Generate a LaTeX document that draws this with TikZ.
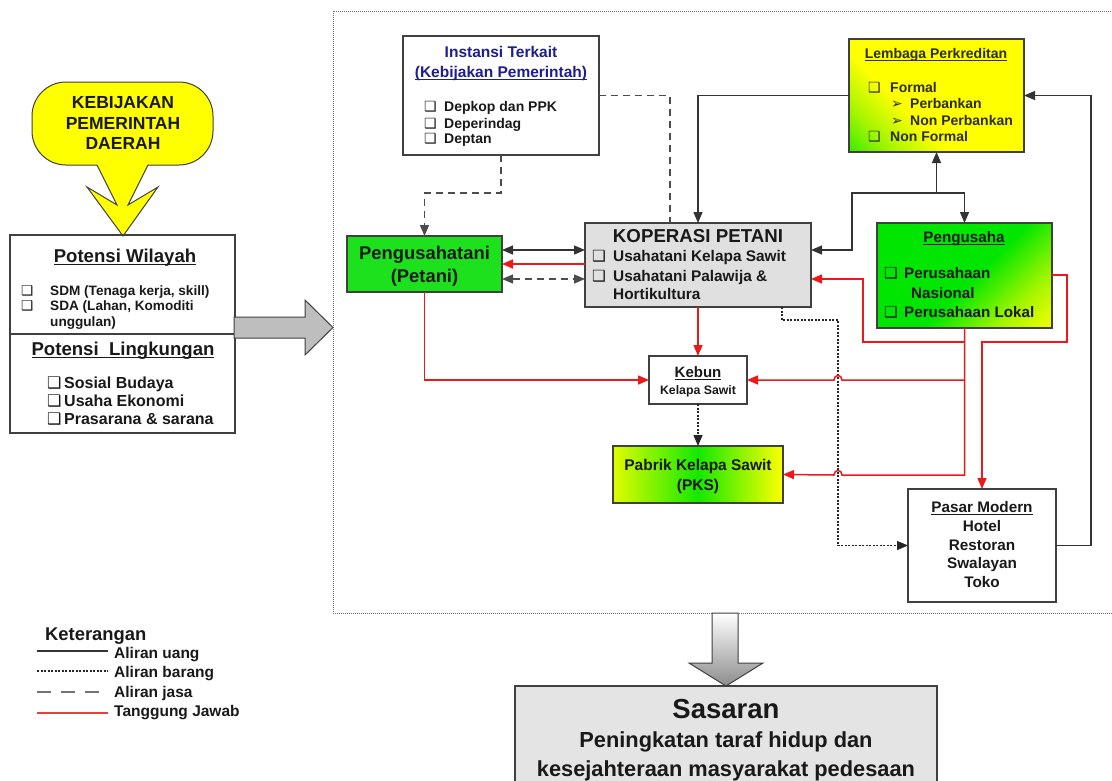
\documentclass[tikz,border=0pt]{standalone}
\usepackage{fontspec}
\setmainfont{Liberation Sans}
\newfontfamily\dvs{DejaVu Sans}
\usetikzlibrary{arrows.meta}
\newcommand\myfs[1]{\fontsize{#1}{#1}\selectfont}
\newcommand\bx[1]{\makebox[#1][l]{\dvs ❑}}
\newcommand\ar[1]{\makebox[#1][l]{\dvs ➢}}
\newcommand\myul[1]{\setbox0\hbox{#1}\rlap{\vrule width\wd0 height -1.6pt depth 2.7pt}\box0}
\definecolor{bord}{RGB}{64,64,64}
\definecolor{myred}{RGB}{235,25,25}
\definecolor{navy}{RGB}{30,30,140}
\definecolor{brgreen}{RGB}{30,225,30}
\definecolor{gr}{RGB}{0,230,0}
\definecolor{yel}{RGB}{255,255,0}
\definecolor{ygr}{RGB}{160,245,0}
\definecolor{kopgray}{RGB}{224,224,224}
\definecolor{sasgray}{RGB}{228,228,228}
\definecolor{arrgray}{RGB}{190,190,190}
\definecolor{txt}{RGB}{25,25,25}
\definecolor{olive2}{RGB}{45,45,20}
\pgfdeclarehorizontalshading{lemsh}{100bp}{color(0bp)=(gr); color(9bp)=(gr); color(25bp)=(ygr); color(39bp)=(yel); color(100bp)=(yel)}
\pgfdeclarehorizontalshading{pgssh}{100bp}{color(0bp)=(gr); color(53bp)=(gr); color(71bp)=(ygr); color(87bp)=(yel); color(100bp)=(yel)}
\begin{document}
\begin{tikzpicture}[x=1pt,y=-1pt,
  box/.style={draw=bord,line width=1.3pt,inner sep=0pt,outer sep=0pt},
  tc/.style={anchor=base,inner sep=0pt,text=txt},
  tw/.style={anchor=base west,inner sep=0pt,text=txt},
  uang/.style={draw=black!80,line width=1.3pt},
  barang/.style={draw=black!85,line width=1.3pt,dash pattern=on 2pt off 1.5pt},
  jasa/.style={draw=black!70,line width=1.3pt,dash pattern=on 7pt off 5pt},
  tj/.style={draw=myred,line width=1.5pt},
  tip/.style={-{Triangle[length=11pt,width=9pt]}},
  tips/.style={{Triangle[length=11pt,width=9pt]}-{Triangle[length=11pt,width=9pt]}},
]
\useasboundingbox (0,0) rectangle (1112,780);
\fill[white] (0,0) rectangle (1112,780);

% frame
\draw[draw=black!55,line width=1pt,dash pattern=on 1pt off 1pt] (333,11) rectangle (1125,613);

% callout
\draw[draw=bord,line width=1pt,fill=yel] (97,165) [rounded corners=34] -- (32,165) -- (32,82) -- (213,82) -- (213,165) [sharp corners] -- (148,165) -- (128,205) -- (158,187) -- (123,236) -- (87,187) -- (117,205) -- cycle;
\node[tc,font=\myfs{17.5}\bfseries] (k1) at (123,108.5) {KEBIJAKAN};
\node[tc,font=\myfs{17.5}\bfseries] (k2) at (123,129) {PEMERINTAH};
\node[tc,font=\myfs{17.5}\bfseries] (k3) at (123,149.5) {DAERAH};

% left boxes
\node[box,minimum width=225,minimum height=99] (pw) at (122.5,284.5) {};
\node[box,minimum width=225,minimum height=99] (pl) at (122.5,383.5) {};
\node[tc,font=\myfs{18.6}\bfseries] (pw1) at (125,262) {\myul{Potensi Wilayah}};
\node[tw,font=\myfs{13.6}\bfseries] (pw2) at (21,295) {\bx{29pt}SDM (Tenaga kerja, skill)};
\node[tw,font=\myfs{13.6}\bfseries] (pw3) at (21,310.5) {\bx{29pt}SDA (Lahan, Komoditi};
\node[tw,font=\myfs{13.6}\bfseries] (pw4) at (50,326) {unggulan)};
\node[tc,font=\myfs{18.6}\bfseries] (pl1) at (123,355) {\myul{Potensi\ \ Lingkungan}};
\node[tw,font=\myfs{16}\bfseries] (pl2) at (47,388) {\bx{17pt}Sosial Budaya};
\node[tw,font=\myfs{16}\bfseries] (pl3) at (47,406) {\bx{17pt}Usaha Ekonomi};
\node[tw,font=\myfs{16}\bfseries] (pl4) at (47,424) {\bx{17pt}Prasarana \& sarana};

% big right arrow
\draw[draw=bord,line width=1pt,fill=arrgray] (234,317) -- (305,317) -- (305,300) -- (333,327.5) -- (305,355) -- (305,338) -- (234,338) -- cycle;

% boxes
\node[box,fill=white,minimum width=196,minimum height=119] (ins) at (501,95.5) {};
\node[box,shade,shading=lemsh,shading angle=45,minimum width=175,minimum height=113] (lem) at (936.5,95.5) {};
\node[box,fill=brgreen,minimum width=155,minimum height=56] (pt) at (424.5,264) {};
\node[box,fill=kopgray,minimum width=226,minimum height=84] (kop) at (698,265) {};
\node[box,shade,shading=pgssh,shading angle=-45,minimum width=175,minimum height=105] (pgs) at (964.5,275.5) {};
\node[box,fill=white,minimum width=98,minimum height=48] (keb) at (698,380) {};
\node[box,left color=yel!88!gr,right color=yel,middle color=gr!92!yel,minimum width=170,minimum height=57] (pks) at (698,474.5) {};
\node[box,fill=white,minimum width=148,minimum height=113] (pas) at (982,545.5) {};

% connectors: jasa
\draw[jasa,tip] (ins.south) -- ++(0,38) -| (pt.north);
\draw[jasa] (ins.east) -| (kop.north -| 670,0);
\draw[jasa,tips] (pt.east |- 0,279) -- (kop.west |- 0,279);

% connectors: uang
\coordinate (J) at (936.5,193);
\draw[uang,tip] (lem.west) -| (kop.north);
\draw[uang,tip] (J) -- (lem.south);
\draw[uang,tip] (J) -| (pgs.north);
\draw[uang,tip] (J) -| (852,250) -- (kop.east |- 0,250);
\draw[uang,tip] (pas.east) -- ++(35,0) |- (lem.east);
\draw[uang,tips] (pt.east |- 0,250) -- (kop.west |- 0,250);

% connectors: barang
\draw[barang,tip] (kop.south -| 782,0) |- (838,320) |- (pas.west);
\draw[barang,tip] (keb.south) -- (pks.north);

% connectors: tanggung jawab
\draw[tj,tip] (kop.west |- 0,264) -- (pt.east |- 0,264);
\draw[tj,tip] (kop.south) -- (keb.north);
\draw[tj,tip] (pt.south) |- (keb.west);
\draw[tj,tip] (pgs.south) -- (pgs.south |- 0,475) -- (842,475) .. controls (842,469) and (834,469) .. (834,475) -- (pks.east);
\draw[tj,tip] (pgs.south |- 0,380) -- (842,380) .. controls (842,374) and (834,374) .. (834,380) -- (keb.east);
\draw[tj,tip] (pgs.south |- 0,342) -- (863,342) -- (863,279) -- (kop.east |- 0,279);
\draw[tj,tip] (pgs.east |- 0,275) -- (1067,275) -- (1067,342) -| (pas.north);

% texts
\node[tc,font=\myfs{15.5}\bfseries,text=navy] (ins1) at (501,57.6) {Instansi Terkait};
\node[tc,font=\myfs{15.5}\bfseries,text=navy] (ins2) at (501,77.6) {\myul{(Kebijakan Pemerintah)}};
\node[tw,font=\myfs{14}\bfseries] (ins3) at (424,111) {\bx{20pt}Depkop dan PPK};
\node[tw,font=\myfs{14}\bfseries] (ins4) at (424,128) {\bx{20pt}Deperindag};
\node[tw,font=\myfs{14}\bfseries] (ins5) at (424,143) {\bx{20pt}Deptan};

\node[tc,font=\myfs{14}\bfseries,text=olive2] (lem1) at (936,58) {\myul{Lembaga Perkreditan}};
\node[tw,font=\myfs{14}\bfseries,text=olive2] (lem2) at (868,92) {\bx{22pt}Formal};
\node[tw,font=\myfs{14}\bfseries,text=olive2] (lem3) at (891,108.5) {\ar{19pt}Perbankan};
\node[tw,font=\myfs{14}\bfseries,text=olive2] (lem4) at (891,125) {\ar{19pt}Non Perbankan};
\node[tw,font=\myfs{14}\bfseries,text=olive2] (lem5) at (868,141.5) {\bx{22pt}Non Formal};

\node[tc,font=\myfs{18.4}\bfseries] (pt1) at (424.5,259.5) {Pengusahatani};
\node[tc,font=\myfs{18.4}\bfseries] (pt2) at (424.5,282.5) {(Petani)};

\node[tc,font=\myfs{18.7}\bfseries] (kop1) at (698,242) {KOPERASI PETANI};
\node[tw,font=\myfs{15.4}\bfseries] (kop2) at (592,261.5) {\bx{21pt}Usahatani Kelapa Sawit};
\node[tw,font=\myfs{15.4}\bfseries] (kop3) at (592,281.5) {\bx{21pt}Usahatani Palawija \&};
\node[tw,font=\myfs{15.4}\bfseries] (kop4) at (613,299.5) {Hortikultura};

\node[tc,font=\myfs{15.2}\bfseries] (pgs1) at (964,242.5) {\myul{Pengusaha}};
\node[tw,font=\myfs{15.2}\bfseries] (pgs2) at (884,278.5) {\bx{20pt}Perusahaan};
\node[tw,font=\myfs{15.2}\bfseries] (pgs3) at (911,298.5) {Nasional};
\node[tw,font=\myfs{15.2}\bfseries] (pgs4) at (884,317.5) {\bx{20pt}Perusahaan Lokal};

\node[tc,font=\myfs{15}\bfseries] (keb1) at (698,377.5) {\myul{Kebun}};
\node[tc,font=\myfs{12.3}\bfseries] (keb2) at (698,394) {Kelapa Sawit};

\node[tc,font=\myfs{15.5}\bfseries] (pks1) at (698,470.5) {Pabrik Kelapa Sawit};
\node[tc,font=\myfs{15.5}\bfseries] (pks2) at (698,490.5) {(PKS)};

\node[tc,font=\myfs{15.3}\bfseries] (pas1) at (982,512.5) {\myul{Pasar Modern}};
\node[tc,font=\myfs{15.3}\bfseries] (pas2) at (982,531.5) {Hotel};
\node[tc,font=\myfs{15.3}\bfseries] (pas3) at (982,550.5) {Restoran};
\node[tc,font=\myfs{15.3}\bfseries] (pas4) at (982,568.5) {Swalayan};
\node[tc,font=\myfs{15.3}\bfseries] (pas5) at (982,587.5) {Toko};

% down arrow and Sasaran
\draw[draw=bord,line width=1pt,top color=white,bottom color=black!45] (712,613) -- (738,613) -- (738,663) -- (763,663) -- (726,686) -- (689,663) -- (712,663) -- cycle;
\node[box,fill=sasgray,minimum width=422,minimum height=110,anchor=north] (sas) at (726,686) {};
\node[tc,font=\myfs{27.5}\bfseries] (sas1) at (726,718) {Sasaran};
\node[tc,font=\myfs{21.8}\bfseries] (sas2) at (726,747) {Peningkatan taraf hidup dan};
\node[tc,font=\myfs{21.8}\bfseries] (sas3) at (726,776) {kesejahteraan masyarakat pedesaan};

% legend
\node[tw,font=\myfs{18.4}\bfseries] (ket) at (45,640) {Keterangan};
\draw[uang] (37,651) -- (108,651);
\draw[barang,line width=1.1pt] (37,671) -- (108,671);
\draw[jasa,line width=1.1pt,draw=black!55,dash pattern=on 14pt off 10pt] (37,692) -- (108,692);
\draw[draw=myred!85!white,line width=1.6pt] (37,713) -- (108,713);
\node[tw,font=\myfs{15.5}\bfseries] (lg1) at (114,658.5) {Aliran uang};
\node[tw,font=\myfs{15.5}\bfseries] (lg2) at (114,677.5) {Aliran barang};
\node[tw,font=\myfs{15.5}\bfseries] (lg3) at (114,697.5) {Aliran jasa};
\node[tw,font=\myfs{15.5}\bfseries] (lg4) at (114,716) {Tanggung Jawab};
\end{tikzpicture}
\end{document}
